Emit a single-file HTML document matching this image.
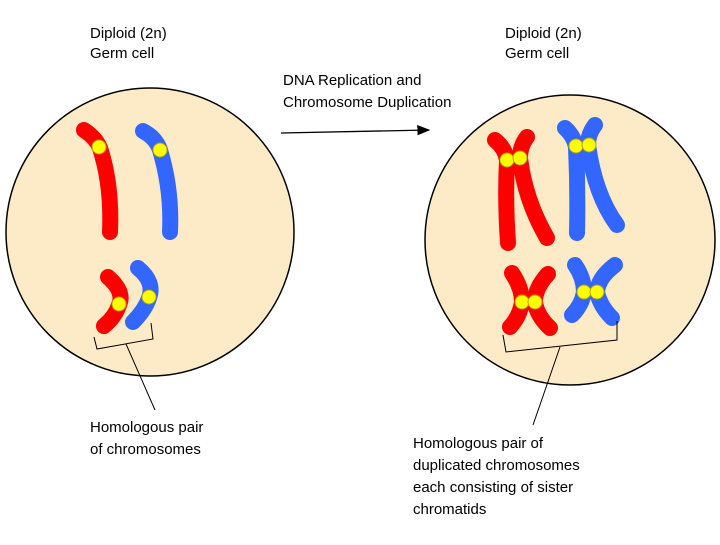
<!DOCTYPE html>
<html><head><meta charset="utf-8"><style>
body{margin:0;background:#fff}
svg text{font-family:"Liberation Sans",sans-serif;font-size:15px;fill:#000}
</style></head><body>
<svg width="720" height="540" viewBox="0 0 720 540">
<defs><marker id="ah" markerWidth="10" markerHeight="8" refX="9" refY="4" orient="auto"><path d="M0,0L10,4L0,8z" fill="#000"/></marker></defs>
<g>
<circle cx="150" cy="232" r="144" fill="#fdebc8" stroke="#000" stroke-width="1.5"/>
<g fill="none" stroke-linecap="round" stroke-width="16">
<path d="M84,130 Q96,138 100,148 Q112,185 110,232" stroke="#f00"/>
<path d="M143,131 Q156,138 160,150 Q172,190 170,232" stroke="#3366ff"/>
<path d="M108,277 Q125,292 119,305 Q115,317 104,326" stroke="#f00"/>
<path d="M138,268 Q155,282 149,298 Q145,310 133,322" stroke="#3366ff"/>
</g>
<g fill="#ffff00" stroke="#b8a000" stroke-width="1">
<circle cx="99" cy="147" r="7"/>
<circle cx="160" cy="150" r="7"/>
<circle cx="119" cy="304" r="7"/>
<circle cx="149" cy="297" r="7"/>
</g>
<path d="M94,337 L97,349 L153,339 L151,323" fill="none" stroke="#000" stroke-width="1"/>
<line x1="126" y1="344" x2="155" y2="410" stroke="#000" stroke-width="1"/>
</g>
<g>
<circle cx="570" cy="240" r="145" fill="#fdebc8" stroke="#000" stroke-width="1.5"/>
<g fill="none" stroke-linecap="round" stroke-width="16">
<path d="M495,140 Q505,148 507,160 Q505,200 508,243" stroke="#f00"/>
<path d="M527,137 Q520,146 520,158 Q525,200 547,238" stroke="#f00"/>
<path d="M565,128 Q574,136 576,147 Q578,190 577,233" stroke="#3366ff"/>
<path d="M595,125 Q588,134 588,145 Q595,195 617,225" stroke="#3366ff"/>
<path d="M512,273 Q522,288 522,302 Q520,316 510,327" stroke="#f00"/>
<path d="M548,274 Q535,288 535,302 Q537,316 550,328" stroke="#f00"/>
<path d="M575,265 Q584,278 584,292 Q582,305 572,315" stroke="#3366ff"/>
<path d="M615,265 Q598,278 597,292 Q600,306 612,318" stroke="#3366ff"/>
</g>
<g fill="#ffff00" stroke="#b8a000" stroke-width="1">
<circle cx="507" cy="160" r="7"/>
<circle cx="520" cy="158" r="7"/>
<circle cx="576" cy="146" r="7"/>
<circle cx="589" cy="145" r="7"/>
<circle cx="522" cy="302" r="7"/>
<circle cx="535" cy="302" r="7"/>
<circle cx="584" cy="292" r="7"/>
<circle cx="597" cy="292" r="7"/>
</g>
<path d="M503,335 L506,352 L617,340 L617,321" fill="none" stroke="#000" stroke-width="1"/>
<line x1="560" y1="347" x2="533" y2="425" stroke="#000" stroke-width="1"/>
</g>
<line x1="281" y1="133" x2="429" y2="130" stroke="#000" stroke-width="1.3" marker-end="url(#ah)"/>
<text x="90" y="38">Diploid (2n)</text>
<text x="90" y="58">Germ cell</text>
<text x="505" y="38">Diploid (2n)</text>
<text x="505" y="58">Germ cell</text>
<text x="283" y="85">DNA Replication and</text>
<text x="283" y="107">Chromosome Duplication</text>
<text x="90" y="432">Homologous pair</text>
<text x="90" y="454">of chromosomes</text>
<text x="413" y="448">Homologous pair of</text>
<text x="413" y="470">duplicated chromosomes</text>
<text x="413" y="492">each consisting of sister</text>
<text x="413" y="514">chromatids</text>
</svg>
</body></html>
